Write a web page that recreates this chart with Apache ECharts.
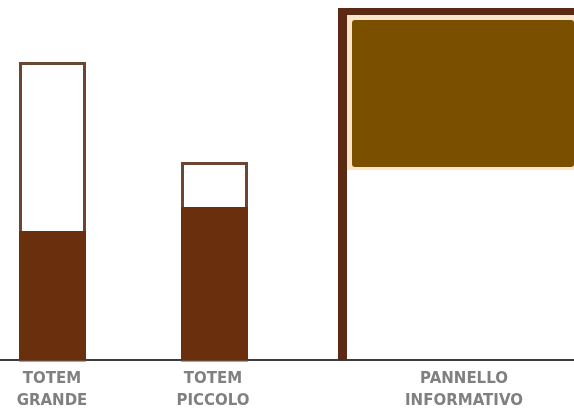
<!DOCTYPE html>
<html>
<head>
<meta charset="utf-8">
<script src="https://cdn.jsdelivr.net/npm/echarts@6/dist/echarts.min.js"></script>
<style>
html,body{margin:0;padding:0;background:#fff;}
#c{width:574px;height:413px;}
</style>
</head>
<body>
<div id="c"></div>
<script>
// Categories (labels under each element)
var categories = ['TOTEM\nGRANDE', 'TOTEM\nPICCOLO', 'PANNELLO\nINFORMATIVO'];
// Label centres along the ground (x units)
var labelX = [52, 213, 464];

// Totems: horizontal extent and heights (units from ground)
var totemLeft = [19, 181];
var totemRight = [86, 248];
var totemHeight = [298, 198];
var totemFilled = [129, 153];

// Information panel
var poleLeft = [338];
var poleRight = [347];
var poleHeight = [352];
var barBottom = [345];
var boardLeft = [352];
var boardRight = [574];
var boardTop = [340];
var boardBottom = [193];

var totemData = totemLeft.map(function (l, i) {
  return [l, totemRight[i], totemHeight[i], totemFilled[i]];
});
var panelData = poleLeft.map(function (l, i) {
  return [l, poleRight[i], poleHeight[i], barBottom[i], boardLeft[i], boardRight[i], boardTop[i], boardBottom[i]];
});
var labelData = categories.map(function (c, i) { return [labelX[i], 0, c]; });

var chart = echarts.init(document.getElementById('c'), null, {renderer: 'canvas'});

function rectFrom(api, x0, y0, x1, y1) {
  var p0 = api.coord([x0, y0]);
  var p1 = api.coord([x1, y1]);
  return {x: Math.min(p0[0], p1[0]), y: Math.min(p0[1], p1[1]),
          width: Math.abs(p1[0] - p0[0]), height: Math.abs(p1[1] - p0[1])};
}

chart.setOption({
  backgroundColor: '#ffffff',
  animation: false,
  grid: {left: 0, right: 0, top: 0, bottom: 53},
  xAxis: {
    type: 'value', min: 0, max: 574,
    axisLine: {show: true, onZero: false, lineStyle: {color: '#3c3c3c', width: 2}},
    axisTick: {show: false}, axisLabel: {show: false}, splitLine: {show: false}
  },
  yAxis: {
    type: 'value', min: 0, max: 360, show: false
  },
  series: [
    {
      type: 'custom',
      data: totemData,
      z: 2,
      renderItem: function (params, api) {
        var l = api.value(0), r = api.value(1), h = api.value(2), f = api.value(3);
        var outer = rectFrom(api, l, 0, r, h);
        var inner = {x: outer.x + 1.5, y: outer.y + 1.5, width: outer.width - 3, height: outer.height - 1.5};
        var fill = rectFrom(api, l, 0, r, f);
        return {
          type: 'group',
          children: [
            {type: 'rect', shape: inner, style: {fill: '#ffffff', stroke: '#6b4632', lineWidth: 3}},
            {type: 'rect', shape: fill, style: {fill: '#6a300e'}}
          ]
        };
      }
    },
    {
      type: 'custom',
      data: panelData,
      z: 2,
      renderItem: function (params, api) {
        var pl = api.value(0), pr = api.value(1), ph = api.value(2), bb = api.value(3);
        var bl = api.value(4), br = api.value(5), bt = api.value(6), bbot = api.value(7);
        var pole = rectFrom(api, pl, 0, pr, ph);
        var bar = rectFrom(api, pl, bb, br, ph);
        var board = rectFrom(api, bl, bbot, br, bt);
        var cream = {x: pole.x + pole.width, y: bar.y + bar.height, width: board.x + board.width - pole.x - pole.width, height: board.y + board.height + 3 - bar.y - bar.height};
        return {
          type: 'group',
          children: [
            {type: 'rect', shape: cream, style: {fill: '#fbe6cc'}},
            {type: 'rect', shape: pole, style: {fill: '#5c2a14'}},
            {type: 'rect', shape: bar, style: {fill: '#5c2a14'}},
            {type: 'rect', shape: {x: board.x, y: board.y, width: board.width, height: board.height, r: 3}, style: {fill: '#7a5000'}}
          ]
        };
      }
    },
    {
      type: 'custom',
      data: labelData,
      z: 3,
      renderItem: function (params, api) {
        var p = api.coord([api.value(0), api.value(1)]);
        return {
          type: 'text',
          x: p[0], y: p[1] + 30,
          style: {
            text: categories[params.dataIndex],
            fill: '#808080',
            font: 'bold 15px "DejaVu Sans"',
            lineHeight: 22,
            align: 'center',
            verticalAlign: 'middle'
          }
        };
      }
    }
  ]
});
</script>
</body>
</html>
